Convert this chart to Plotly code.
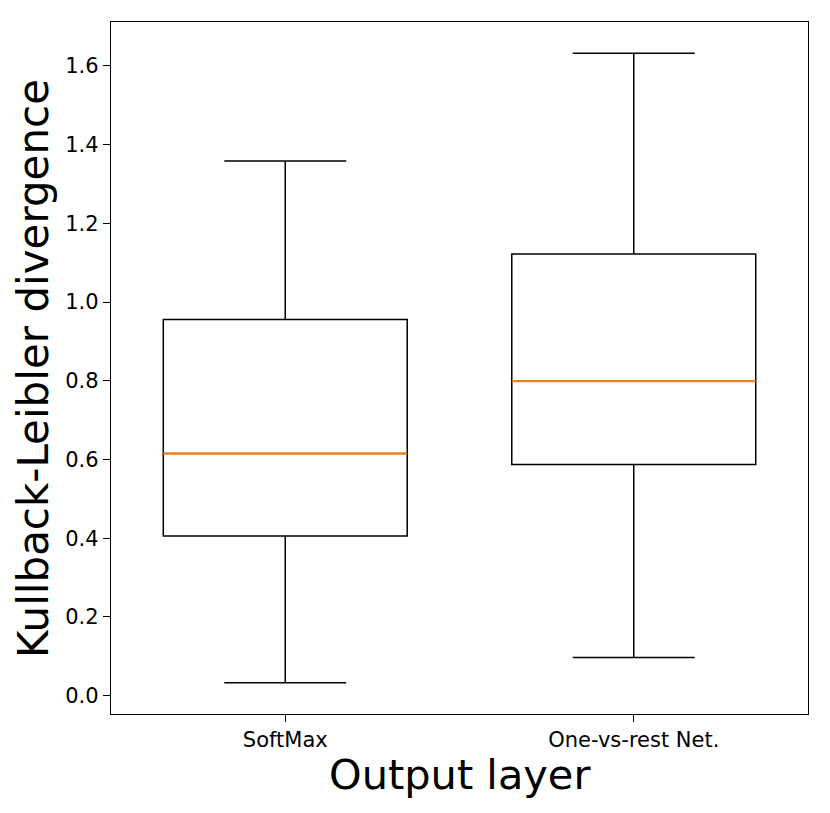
import plotly.graph_objects as go

# Data
categories = ["SoftMax", "One-vs-rest Net."]
positions = [1, 2]
lower_whisker = [0.033, 0.097]
q1 = [0.4055, 0.5875]
median = [0.6154, 0.799]
q3 = [0.9557, 1.1225]
upper_whisker = [1.3587, 1.632]
y_ticks = [0.0, 0.2, 0.4, 0.6, 0.8, 1.0, 1.2, 1.4, 1.6]

BOX_W = 0.7
LW = 1.5
FONT = "DejaVu Sans"

fig = go.Figure()
for i, cat in enumerate(categories):
    fig.add_trace(go.Box(
        x=[positions[i]], q1=[q1[i]], median=[median[i]], q3=[q3[i]],
        lowerfence=[lower_whisker[i]], upperfence=[upper_whisker[i]],
        name=cat, width=BOX_W, whiskerwidth=0.5,
        line=dict(color="black", width=LW), fillcolor="rgba(255,255,255,0)",
        boxpoints=False, showlegend=False, hoverinfo="skip",
    ))
    fig.add_trace(go.Scatter(
        x=[positions[i] - BOX_W / 2, positions[i] + BOX_W / 2],
        y=[median[i], median[i]], mode="lines",
        line=dict(color="#ff7f0e", width=2.0), showlegend=False, hoverinfo="skip",
    ))

fig.update_layout(
    width=822, height=805,
    margin=dict(l=103, r=22, t=14, b=99),
    plot_bgcolor="white", paper_bgcolor="white",
    font=dict(family=FONT, color="black", size=21),
    xaxis=dict(range=[0.5, 2.5], tickvals=positions, ticktext=categories,
               showgrid=False, zeroline=False, showline=True, mirror=True,
               linecolor="black", linewidth=1.3, ticks="outside", ticklen=7,
               tickwidth=1.3, tickcolor="black", tickfont=dict(size=21, family=FONT)),
    yaxis=dict(range=[-0.0465, 1.7117], tickvals=y_ticks, tickformat=".1f",
               showgrid=False, zeroline=False, showline=True, mirror=True,
               linecolor="black", linewidth=1.3, ticks="outside", ticklen=7,
               tickwidth=1.3, tickcolor="black", tickfont=dict(size=21, family=FONT)),
    annotations=[
        dict(text="Output layer", xref="paper", yref="paper", x=0.5, y=-0.088,
             xanchor="center", yanchor="middle", showarrow=False,
             font=dict(size=41.5, family=FONT, color="black")),
        dict(text="Kullback-Leibler divergence", xref="paper", yref="paper",
             x=-0.112, y=0.5, xanchor="center", yanchor="middle", textangle=-90,
             showarrow=False, font=dict(size=42, family=FONT, color="black")),
    ],
)

fig.write_html("out.html")
